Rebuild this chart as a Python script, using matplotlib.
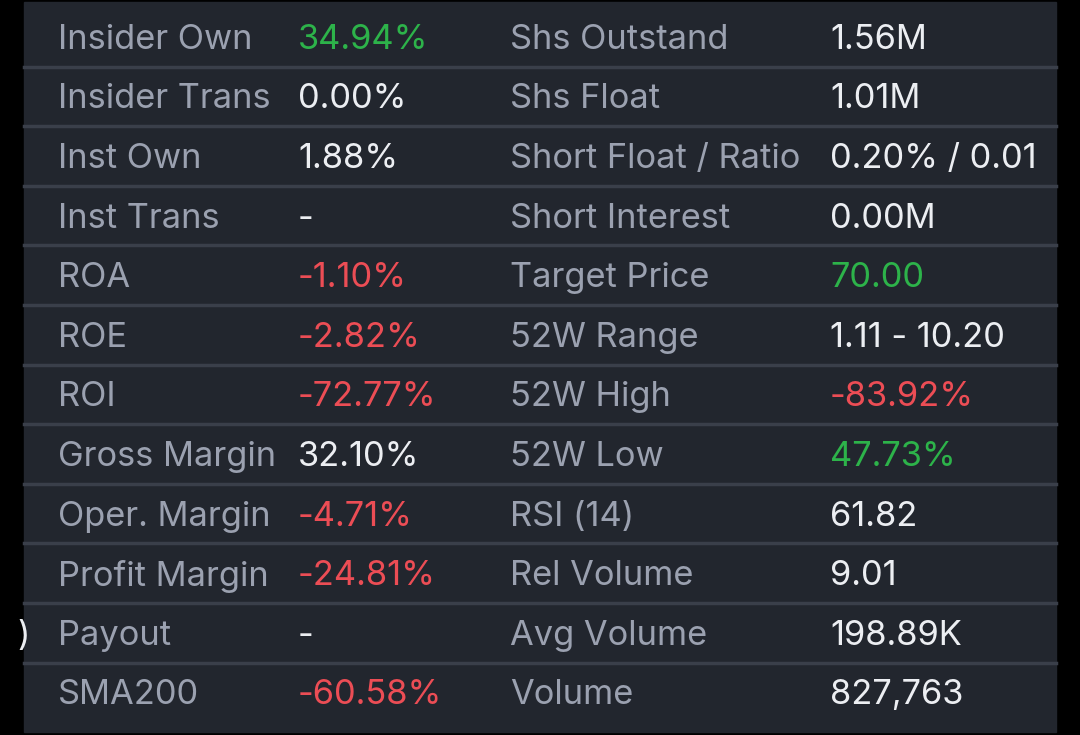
import matplotlib.pyplot as plt
from matplotlib.patches import Rectangle

plt.rcParams['font.family'] = ['Inter', 'DejaVu Sans']

left_labels = ["Insider Own", "Insider Trans", "Inst Own", "Inst Trans", "ROA", "ROE",
               "ROI", "Gross Margin", "Oper. Margin", "Profit Margin", "Payout", "SMA200"]
left_values = ["34.94%", "0.00%", "1.88%", "-", "-1.10%", "-2.82%",
               "-72.77%", "32.10%", "-4.71%", "-24.81%", "-", "-60.58%"]
left_tone = ["g", "w", "w", "w", "r", "r", "r", "w", "r", "r", "w", "r"]
right_labels = ["Shs Outstand", "Shs Float", "Short Float / Ratio", "Short Interest",
                "Target Price", "52W Range", "52W High", "52W Low", "RSI (14)",
                "Rel Volume", "Avg Volume", "Volume"]
right_values = ["1.56M", "1.01M", "0.20% / 0.01", "0.00M", "70.00", "1.11 - 10.20",
                "-83.92%", "47.73%", "61.82", "9.01", "198.89K", "827,763"]
right_tone = ["w", "w", "w", "w", "g", "w", "r", "g", "w", "w", "w", "w"]

colors = {"w": "#eceef2", "g": "#2db34a", "r": "#ec4d55"}
label_color = "#9ba1b0"
bg = "#22262e"
line_color = "#3a3f4a"

fig = plt.figure(figsize=(10.8, 7.35), dpi=100, facecolor="black")
ax = fig.add_axes([0, 0, 1, 1])
ax.set_xlim(0, 1080)
ax.set_ylim(735, 0)
ax.axis("off")

top, row_h = 7, 59.6
ax.add_patch(Rectangle((24, 2), 1032, 730, color=bg, zorder=0))
for i in range(1, len(left_labels)):
    y = top + i * row_h
    ax.plot([24, 1056], [y, y], color=line_color, lw=2.5, zorder=1)

fs = 21
sx = 1.18  # horizontal stretch to match the wider UI font
for i in range(len(left_labels)):
    yc = top + (i + 0.5) * row_h + 3
    for x, s, c in [(58, left_labels[i], label_color),
                    (298, left_values[i], colors[left_tone[i]]),
                    (510, right_labels[i], label_color),
                    (830, right_values[i], colors[right_tone[i]])]:
        ax.text(x, yc, s, color=c, fontsize=fs * 1.08, va="center",
                fontstretch="expanded").set_fontsize(fs * sx)

# clipped character at the left edge
ax.text(17, top + 10.5 * row_h + 3, ")", color="#eceef2", fontsize=fs * sx, va="center")

fig.savefig("out.png", dpi=100, facecolor="black")
